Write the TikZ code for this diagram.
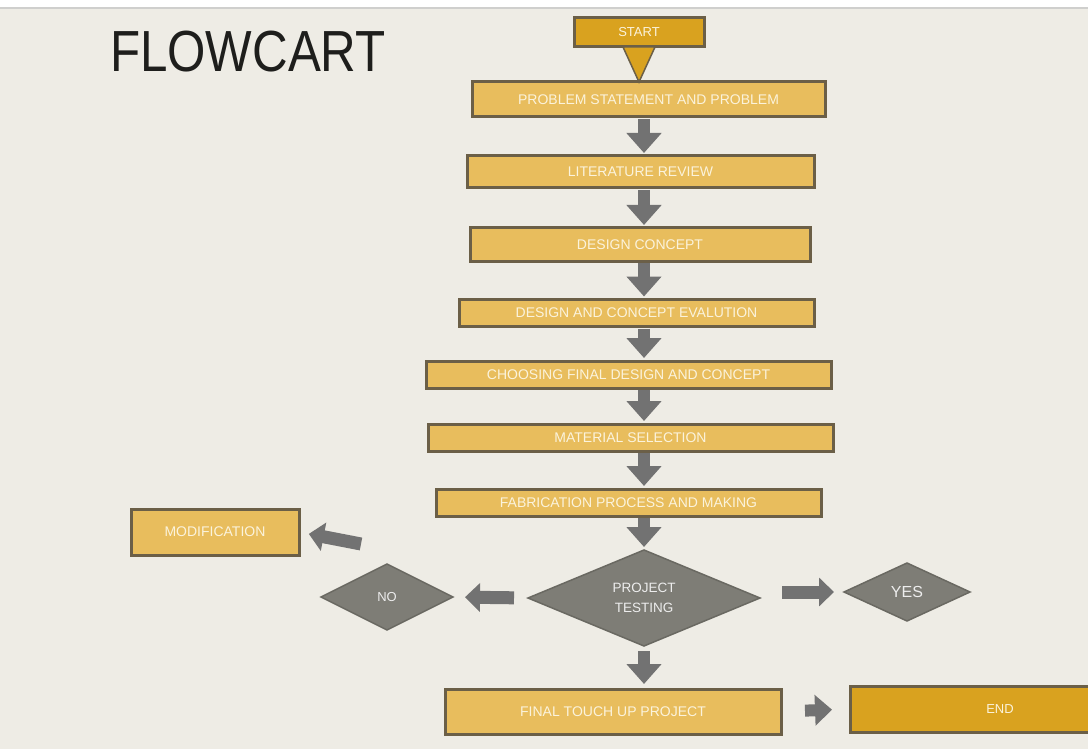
\documentclass[tikz,border=0pt]{standalone}
\usepackage{fontspec}
\usepackage{tikz}
\usetikzlibrary{arrows.meta, shapes.geometric, calc}
\setmainfont{Liberation Sans}

\definecolor{paper}{HTML}{EEECE5}
\definecolor{rulegrey}{HTML}{CFCFCD}
\definecolor{titleblack}{HTML}{1E1E1C}
\definecolor{boxgold}{HTML}{E8BD5D}
\definecolor{startgold}{HTML}{D9A21F}
\definecolor{boxedge}{HTML}{6B5F47}
\definecolor{stonegrey}{HTML}{7E7D76}
\definecolor{stoneedge}{HTML}{6A6962}
\definecolor{arrowgrey}{HTML}{727272}
\definecolor{labelwhite}{HTML}{FBF3DC}

\begin{document}
\begin{tikzpicture}[x = 1pt, y = -1pt, % one unit = one pixel, y runs down
    > = {Triangle[width=34pt, length=20pt]}, % block arrow head
    semithick % line style
  ]

  \tikzstyle{every node}=[outer sep = 0pt, inner sep = 2pt,
  font = \fontsize{14}{16}\selectfont]
  \tikzstyle{stepbox}=[draw = boxedge, line width = 3pt, fill = boxgold,
  text = labelwhite, minimum height = 27pt]
  \tikzstyle{endbox}=[stepbox, fill = startgold]
  \tikzstyle{decision}=[diamond, draw = stoneedge, line width = 1.5pt,
  fill = stonegrey, text = white!93!black, inner sep = 0pt, align = center]
  \tikzstyle{flow}=[->, draw = arrowgrey, line width = 12pt,
  shorten < = 2pt, shorten > = 3pt]
  \tikzstyle{side}=[-{Triangle[width=28pt, length=15pt]}, draw = arrowgrey,
  line width = 13pt]

  % page
  \useasboundingbox (0,0) rectangle (1088,749);
  \clip (0,0) rectangle (1088,749);
  \fill[white] (0,0) rectangle (1088,8);
  \fill[paper] (0,8) rectangle (1088,749);
  \draw[rulegrey, line width = 2pt] (0,8) -- (1088,8);

  \node[anchor = base west, inner sep = 0pt, xscale = 0.85, text = titleblack,
  font = \fontsize{58}{60}\selectfont] (title) at (110,72) {FLOWCART};

  \node[endbox, minimum width = 130pt, minimum height = 29pt,
  font = \fontsize{13}{15}\selectfont] (start) at (639,32.5) {START};
  \node[stepbox, minimum width = 353pt, minimum height = 35pt] (ps)
  at (648.5,99.5) {PROBLEM STATEMENT AND PROBLEM};
  \node[stepbox, minimum width = 347pt, minimum height = 32pt] (lr)
  at (640.5,172) {LITERATURE REVIEW};
  \node[stepbox, minimum width = 340pt, minimum height = 33pt] (dc)
  at (640,244.5) {DESIGN CONCEPT};
  \node[stepbox, minimum width = 355pt] (dce) at (636.5,313)
  {DESIGN AND CONCEPT EVALUTION};
  \node[stepbox, minimum width = 405pt] (cfd) at (628.5,374.5)
  {CHOOSING FINAL DESIGN AND CONCEPT};
  \node[stepbox, minimum width = 405pt] (ms) at (630.5,437.5)
  {MATERIAL SELECTION};
  \node[stepbox, minimum width = 385pt] (fab) at (628.5,502.5)
  {FABRICATION PROCESS AND MAKING};
  \node[stepbox, minimum width = 168pt, minimum height = 46pt] (mod)
  at (215,532) {MODIFICATION};

  \node[decision, minimum width = 232pt, minimum height = 96pt, aspect = 2.4,
  font = \fontsize{13.5}{20}\selectfont] (testing) at (644,598)
  {PROJECT\\TESTING};
  \node[decision, minimum width = 132pt, minimum height = 66pt, aspect = 2,
  font = \fontsize{13}{15}\selectfont] (no) at (387,597) {NO};
  \node[decision, minimum width = 126pt, minimum height = 58pt, aspect = 2,
  font = \fontsize{16}{18}\selectfont] (yes) at (907,592) {YES};

  \node[stepbox, minimum width = 336pt, minimum height = 45pt] (final)
  at (613,711.5) {FINAL TOUCH UP PROJECT};
  \node[endbox, minimum width = 300pt, minimum height = 46pt,
  font = \fontsize{13}{15}\selectfont] (end) at (1000,709) {END};

  \coordinate (modtail) at (361,544);

  % start pointer
  \filldraw[fill = startgold, draw = boxedge, line width = 1.5pt]
  ($(start.south)+(-16,0)$) -- ($(start.south)+(16,0)$)
  -- (start.south |- ps.north) -- cycle;

  \draw[flow] (ps.south -| testing) -- (lr.north -| testing);
  \draw[flow] (lr.south -| testing) -- (dc.north -| testing);
  \draw[flow] (dc.south -| testing) -- (dce.north -| testing);
  \draw[flow] (dce.south -| testing) -- (cfd.north -| testing);
  \draw[flow] (cfd.south -| testing) -- (ms.north -| testing);
  \draw[flow] (ms.south -| testing) -- (fab.north -| testing);
  \draw[flow] (fab.south -| testing) -- (testing.north);
  \draw[flow, shorten < = 5pt, shorten > = 5pt] (testing.south)
  -- (testing.south |- final.north);

  \draw[side, shorten < = 14pt, shorten > = 12pt] (testing.west) -- (no.east);
  \draw[side, shorten < = 22pt, shorten > = 10pt] (testing.east |- yes)
  -- (yes.west);
  \draw[side, shorten > = 10pt] (modtail) -- (mod.east);
  \draw[side, -{Triangle[width=30pt, length=17pt]}, line width = 12pt,
  shorten < = 24pt, shorten > = 18pt] (final.east) -- (end.west);
\end{tikzpicture}
\end{document}
